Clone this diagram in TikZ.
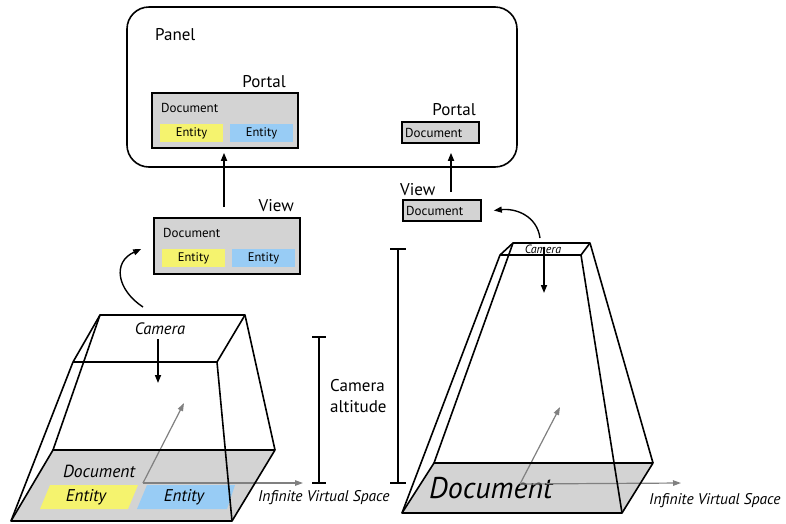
\documentclass[tikz,border=0pt]{standalone}
\usepackage{fontspec}
\setmainfont{PT Sans}
\usetikzlibrary{arrows.meta}
\definecolor{docgray}{RGB}{211,211,211}
\definecolor{entyellow}{RGB}{245,243,110}
\definecolor{entblue}{RGB}{152,204,245}
\definecolor{axisgray}{RGB}{128,128,128}
\begin{document}
\begin{tikzpicture}[x=1pt,y=-1pt,
  frame/.style={line width=1.6pt, line join=round},
  box/.style={draw, line width=1.6pt, fill=docgray, inner sep=0pt},
  ent/.style={inner sep=0pt, minimum width=63pt, minimum height=18pt, font=\fontsize{12.5}{12.5}\selectfont},
  arr/.style={line width=1.6pt, -{Triangle[length=8pt,width=6pt]}},
  garr/.style={line width=1.2pt, axisgray, -{Triangle[length=8pt,width=5.5pt]}},
  lbl/.style={inner sep=0pt, font=\fontsize{17}{21}\selectfont},
  doc/.style={inner sep=0pt, anchor=west, font=\fontsize{13}{13}\selectfont},
  itl/.style={inner sep=0pt, font=\itshape\fontsize{#1}{#1}\selectfont},
]
\useasboundingbox (0,0) rectangle (786,523);

% ---------- Panel ----------
\node[draw, line width=1.6pt, rounded corners=22pt, minimum width=390pt, minimum height=160pt, inner sep=0pt] (panel) at (322,87) {};
\node[lbl, anchor=west] (paneltxt) at (155,35) {Panel};

% Portal 1
\node[box, minimum width=146pt, minimum height=55pt] (portal1) at (225,120.5) {};
\node[doc] (p1doc) at (161,108) {Document};
\node[ent, fill=entyellow] (p1e1) at (191.5,133) {Entity};
\node[ent, fill=entblue] (p1e2) at (261.5,133) {Entity};
\node[lbl, anchor=east] (p1lbl) at (286,82) {Portal};

% Portal 2
\node[box, minimum width=77pt, minimum height=21pt] (portal2) at (440.5,132.5) {};
\node[doc] (p2doc) at (405,133) {Document};
\node[lbl, anchor=east] (p2lbl) at (476,110) {Portal};

% View 1
\node[box, minimum width=146pt, minimum height=56pt] (view1) at (227,246) {};
\node[doc] (v1doc) at (163,233) {Document};
\node[ent, fill=entyellow] (v1e1) at (193.5,258) {Entity};
\node[ent, fill=entblue] (v1e2) at (263.5,258) {Entity};
\node[lbl, anchor=east] (v1lbl) at (294,206) {View};

% View 2
\node[box, minimum width=78pt, minimum height=21pt] (view2) at (442,210.5) {};
\node[doc] (v2doc) at (406,211) {Document};
\node[lbl, anchor=west] (v2lbl) at (400,190) {View};

% view -> portal arrows
\draw[arr, shorten <=10pt, shorten >=4pt] ([xshift=-3pt]view1.north) -- ([xshift=-3pt]view1.north |- portal1.south);
\draw[arr, shorten <=7pt, shorten >=9pt] ([xshift=9pt]view2.north) -- ([xshift=9pt]view2.north |- portal2.south);

% ---------- Camera altitude bars ----------
\draw[frame] (319,337) -- (319,483);
\draw[frame] (312,337) -- (326,337);
\draw[frame] (312,483) -- (326,483);
\draw[frame] (398,249) -- (398,483);
\draw[frame] (390,249) -- (406,249);
\draw[frame] (390,483) -- (406,483);
\node[lbl, anchor=west, align=left] (alt) at (330,396) {Camera\\altitude};

% ---------- Left frustum ----------
\coordinate (LTBL) at (100,315); \coordinate (LTBR) at (245,315);
\coordinate (LTFR) at (217,362); \coordinate (LTFL) at (73,362);
\coordinate (LBBL) at (53,450);  \coordinate (LBBR) at (275,450);
\coordinate (LBFR) at (232,521); \coordinate (LBFL) at (11,521);
\fill[docgray] (LBBL) -- (LBBR) -- (LBFR) -- (LBFL) -- cycle;
\fill[entyellow] (50,485) -- (138,485) -- (128,509) -- (40,509) -- cycle;
\fill[entblue] (147,485) -- (235,485) -- (227,509) -- (137,509) -- cycle;
\node[itl=17.5] (ldoc) at (99,471) {Document};
\node[itl=17] (le1) at (86,497) {Entity};
\node[itl=17] (le2) at (184,497) {Entity};
\node[itl=16.5] (lcam) at (160,329) {Camera};
\draw[arr] (158,339) -- (158,383);
\coordinate (LO) at (143,483);
\coordinate (LZ) at (184,403);
\coordinate (LX) at (303,483);
\draw[garr] (LO) -- (LZ);
\draw[garr] (LO) -- (LX);
\node[itl=15.5, anchor=west] (linf) at (258,498) {Infinite Virtual Space};
\draw[frame] (LBBL) -- (LBBR) -- (LBFR) -- (LBFL) -- cycle;
\draw[frame] (LTBL) -- (LTBR) -- (LTFR) -- (LTFL) -- cycle;
\draw[frame] (LTBL) -- (LBBL);
\draw[frame] (LTBR) -- (LBBR);
\draw[frame] (LTFR) -- (LBFR);
\draw[frame] (LTFL) -- (LBFL);

% ---------- Right frustum ----------
\coordinate (RTBL) at (513,243); \coordinate (RTBR) at (590,243);
\coordinate (RTFR) at (581,255); \coordinate (RTFL) at (500,255);
\coordinate (RBBL) at (434,463); \coordinate (RBBR) at (653,463);
\coordinate (RBFR) at (622,513); \coordinate (RBFL) at (402,513);
\fill[docgray] (RBBL) -- (RBBR) -- (RBFR) -- (RBFL) -- cycle;
\node[itl=30, anchor=west] (rdoc) at (429,488) {Document};
\coordinate (RO) at (520,484);
\coordinate (RZ) at (560,407);
\coordinate (RX) at (681,483);
\draw[garr] (RO) -- (RZ);
\draw[garr] (RO) -- (RX);
\node[itl=15.5, anchor=west] (rinf) at (649,501) {Infinite Virtual Space};
\node[itl=12] (rcam) at (543,249) {Camera};
\draw[arr] (544,247) -- (544,293);
\draw[frame] (RBBL) -- (RBBR) -- (RBFR) -- (RBFL) -- cycle;
\draw[frame] (RTBL) -- (RTBR) -- (RTFR) -- (RTFL) -- cycle;
\draw[frame] (RTBL) -- (RBBL);
\draw[frame] (RTBR) -- (RBBR);
\draw[frame] (RTFR) -- (RBFR);
\draw[frame] (RTFL) -- (RBFL);

% ---------- curved arrows camera -> view ----------
\coordinate (lcs) at (143,307);
\coordinate (rcs) at (540,238);
\draw[arr, line width=1.4pt] (lcs) .. controls (117,290) and (112,262) .. ([xshift=-12pt,yshift=-3pt]view1.west);
\draw[arr, line width=1.4pt] (rcs) .. controls (537,216) and (516,208) .. ([xshift=12pt]view2.east);
\end{tikzpicture}
\end{document}
